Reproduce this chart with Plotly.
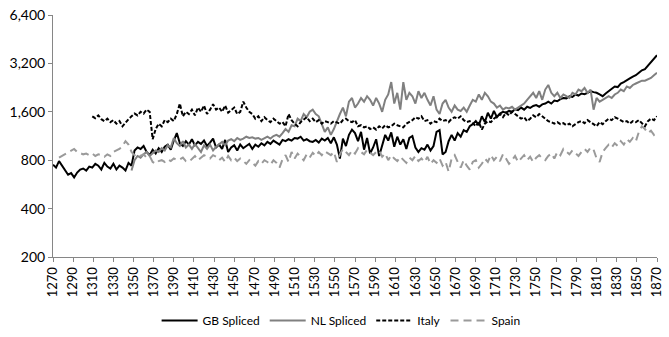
import plotly.graph_objects as go

# Series start years; observations are spaced every three years
gb_start = 1270
gb_values = [
    750, 720, 790, 740, 690, 650, 665, 625, 670, 700,
    710, 690, 730, 720, 760, 740, 700, 770, 730, 710,
    760, 700, 740, 720, 690, 770, 740, 920, 960, 940,
    980, 900, 860, 930, 880, 950, 900, 970, 1000, 930,
    1060, 1180, 1020, 980, 1050, 1000, 1080, 990, 1040, 1010,
    1060, 980, 1030, 1090, 960, 1000, 940, 1070, 900, 960,
    990, 920, 1000, 950, 980, 1010, 940, 1000, 970, 1020,
    990, 1040, 1010, 1060, 1030, 1000, 1070, 1050, 1080, 1060,
    1100, 1090, 1120, 1060, 1080, 1050, 1040, 1070, 1030, 1090,
    1060, 1100, 1020, 1110, 1000, 820, 1090, 980, 1150, 1240,
    1180, 1050, 1200, 930, 1100, 880, 960, 1080, 850, 990,
    1150, 1060, 1190, 970, 1120, 1000, 1080, 940, 1100, 1130,
    960, 900, 950, 930, 1000, 920, 980, 1200, 1230, 870,
    900, 1050, 1150, 1060, 1180, 1120, 1230, 1200, 1300, 1340,
    1400, 1320, 1500, 1380, 1580, 1450, 1620, 1480, 1560, 1600,
    1580, 1620, 1600, 1660, 1640, 1700, 1650, 1720, 1690, 1740,
    1760, 1720, 1780, 1800, 1850, 1800, 1880, 1860, 1920, 1950,
    1940, 2000, 1980, 2050, 2020, 2080, 2060, 2100, 2150, 2120,
    2100, 2050, 2000, 2080, 2150, 2200, 2300, 2280, 2400, 2450,
    2500, 2580, 2650, 2700, 2800, 2900, 2950, 3100, 3250, 3400,
    3600,
]

nl_start = 1348
nl_values = [
    690, 800, 850, 830, 870, 900, 850, 880, 920, 900,
    950, 920, 990, 960, 1100, 1020, 980, 1050, 960, 1000,
    940, 1010, 960, 900, 990, 940, 1000, 920, 970, 1010,
    1040, 990, 1060, 1080, 1050, 1100, 1070, 1090, 1120, 1100,
    1110, 1090, 1100, 1070, 1100, 1120, 1090, 1130, 1150, 1120,
    1180, 1250, 1200, 1320, 1300, 1450, 1400, 1550, 1480, 1600,
    1650, 1550, 1500, 1350, 1200, 1280, 1150, 1250, 1400, 1550,
    1700, 1500, 1850, 1950, 1700, 1800, 1950, 1850, 2000, 1900,
    1750, 1950, 1800, 1600, 1900, 2050, 2450, 1800, 2100, 1650,
    2450, 1900, 2100, 2000, 1800, 2150, 1950, 2100, 1900, 1750,
    2000, 1650, 1550, 1800, 1900, 1700, 1600, 1750, 1650, 1620,
    1700, 1600, 1750, 1900, 1850, 2050, 1900, 2100, 2000, 1850,
    1800, 1700, 1750, 1650, 1700, 1680, 1720, 1650, 1700, 1750,
    1800, 1900, 2000, 2100, 1950, 2150, 1900, 2200, 2350, 2100,
    2000, 2100, 1950, 2050, 2000, 1950, 2100, 2050, 2200, 2150,
    2250, 2100, 2200, 1650, 1950, 1850, 1900, 1950, 2000, 1950,
    2050, 2100, 2200, 2150, 2300, 2250, 2350, 2400, 2450, 2500,
    2500, 2550, 2600, 2700, 2800,
]

italy_start = 1309
italy_values = [
    1500, 1460, 1520, 1440, 1400, 1450, 1380, 1420, 1350, 1400,
    1300, 1380, 1440, 1500, 1560, 1520, 1600, 1560, 1650, 1600,
    1080, 1250, 1350, 1300, 1420, 1380, 1450, 1400, 1550, 1800,
    1500, 1600, 1550, 1650, 1520, 1700, 1600, 1750, 1550, 1650,
    1780, 1650, 1700, 1600, 1750, 1580, 1650, 1700, 1550, 1600,
    1850, 1700, 1600, 1550, 1450, 1500, 1400, 1480, 1420, 1380,
    1450, 1400, 1350, 1380, 1300, 1550, 1420, 1350, 1300, 1380,
    1420, 1480, 1400, 1450, 1380, 1420, 1350, 1400, 1380, 1350,
    1400, 1380, 1350, 1420, 1450, 1400, 1380, 1420, 1300, 1320,
    1280, 1300, 1250, 1280, 1240, 1300, 1260, 1320, 1280, 1300,
    1350, 1320, 1300, 1280, 1350, 1380, 1420, 1480, 1450, 1500,
    1400, 1420, 1350, 1400, 1380, 1450, 1400, 1420, 1380, 1450,
    1480, 1450, 1500, 1420, 1380, 1400, 1360, 1300, 1380, 1240,
    1350, 1400, 1380, 1450, 1500, 1550, 1480, 1580, 1520, 1600,
    1550, 1500, 1450, 1480, 1400, 1450, 1520, 1480, 1550, 1500,
    1450, 1400, 1380, 1350, 1380, 1340, 1360, 1320, 1350, 1300,
    1340, 1380, 1400, 1360, 1420, 1380, 1350, 1300, 1380, 1340,
    1400, 1450, 1420, 1480, 1450, 1420, 1380, 1400, 1350, 1400,
    1380, 1420, 1350, 1300, 1400, 1450, 1420, 1500,
]

spain_start = 1276
spain_values = [
    830, 850, 880, 900, 920, 940, 900, 880, 870, 880,
    860, 880, 850, 870, 860, 840, 870, 850, 900, 920,
    940, 980, 1050, 1000, 900, 860, 880, 850, 870, 830,
    850, 780, 760, 790, 800, 780, 810, 790, 820, 800,
    810, 830, 790, 780, 820, 850, 800, 830, 860, 840,
    820, 860, 840, 800, 830, 780, 850, 800, 830, 790,
    820, 790, 760, 800, 770, 740, 790, 760, 800, 780,
    750, 800, 770, 720, 810, 860, 780, 900, 820, 880,
    840, 800, 870, 830, 890, 850, 900, 860, 910, 880,
    860, 900, 780, 870, 940, 900, 860, 920, 880, 950,
    900, 870, 930, 890, 860, 900, 920, 840, 880, 800,
    860, 820, 790, 840, 800, 770, 830, 800, 850, 790,
    820, 780, 840, 760, 800, 770, 820, 740, 780, 680,
    820, 860, 780, 720, 800, 740, 700, 780, 800, 720,
    760, 820, 780, 860, 800, 840, 790, 870, 820, 760,
    800, 850, 780, 820, 860, 800, 840, 780, 830, 860,
    820, 800, 850, 880, 820, 900, 860, 940, 900, 870,
    920, 880, 850, 900, 940, 900, 960, 930, 820, 780,
    900, 950, 1000, 960, 1020, 980, 1050, 1000, 1080, 1040,
    1100, 1050, 1200, 1300, 1250, 1180, 1220, 1150, 1200,
]

x_ticks = list(range(1270, 1871, 20))
y_ticks = [200, 400, 800, 1600, 3200, 6400]
y_labels = ["200", "400", "800", "1,600", "3,200", "6,400"]


def years(start, values):
    return [start + 3 * i for i in range(len(values))]


FONT = "Lato, sans-serif"

fig = go.Figure()
fig.add_trace(go.Scatter(
    x=years(gb_start, gb_values), y=gb_values, name="GB Spliced",
    mode="lines", line=dict(color="#000000", width=2)))
fig.add_trace(go.Scatter(
    x=years(nl_start, nl_values), y=nl_values, name="NL Spliced",
    mode="lines", line=dict(color="#808080", width=2)))
fig.add_trace(go.Scatter(
    x=years(italy_start, italy_values), y=italy_values, name="Italy",
    mode="lines", line=dict(color="#000000", width=2, dash="4px,2px")))
fig.add_trace(go.Scatter(
    x=years(spain_start, spain_values), y=spain_values, name="Spain",
    mode="lines", line=dict(color="#9a9a9a", width=2, dash="8px,5px")))

fig.update_layout(
    width=669, height=337,
    margin=dict(l=53, r=12, t=15, b=80, autoexpand=False),
    paper_bgcolor="white", plot_bgcolor="white",
    font=dict(family=FONT, color="#000000", size=12),
    showlegend=True,
    legend=dict(orientation="h", x=0.477, xanchor="center", y=-0.262,
                yanchor="middle", font=dict(size=12), itemwidth=36,
                traceorder="normal"),
    xaxis=dict(
        range=[1270, 1870], tickmode="array", tickvals=x_ticks,
        tickangle=-90, tickfont=dict(size=13), automargin=False,
        showgrid=False, zeroline=False, showline=True,
        linecolor="#868686", linewidth=1,
        ticks="outside", ticklen=4, tickcolor="#868686",
    ),
    yaxis=dict(
        type="log", range=[2.30103, 3.80618], automargin=False,
        tickmode="array", tickvals=y_ticks, ticktext=y_labels,
        tickfont=dict(size=14),
        showgrid=False, zeroline=False, showline=True,
        linecolor="#868686", linewidth=1,
        ticks="outside", ticklen=4, tickcolor="#868686",
    ),
)

fig.write_html("out.html")
